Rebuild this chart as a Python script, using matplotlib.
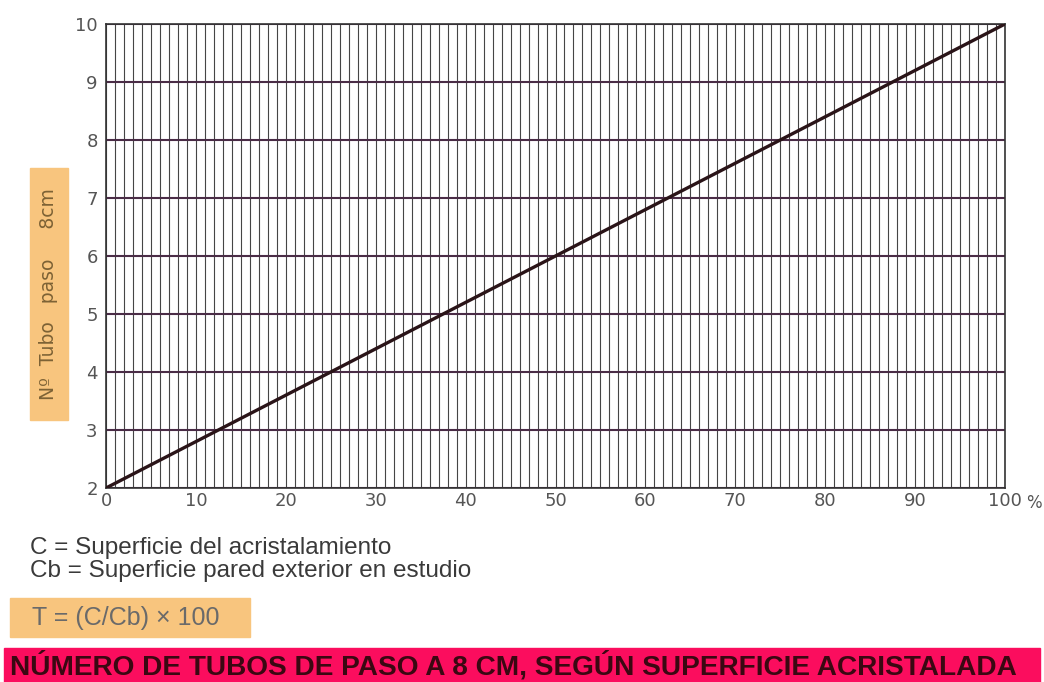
import matplotlib
matplotlib.use("Agg")
import matplotlib.pyplot as plt
from matplotlib.patches import Rectangle

# T = (C/Cb) x 100  vs  number of 8 cm pipes
porcentaje = [0, 12.5, 25, 37.5, 50, 62.5, 75, 87.5, 100]
n_tubos = [2, 3, 4, 5, 6, 7, 8, 9, 10]

x_ticks = [0, 10, 20, 30, 40, 50, 60, 70, 80, 90, 100]
y_ticks = [2, 3, 4, 5, 6, 7, 8, 9, 10]
x_fine = list(range(0, 101))

ylabel = "Nº  Tubo   paso     8cm"
leyenda = ["C = Superficie del acristalamiento",
           "Cb = Superficie pared exterior en estudio"]
formula = "T = (C/Cb) × 100"
titulo = "NÚMERO DE TUBOS DE PASO A 8 CM, SEGÚN SUPERFICIE ACRISTALADA"

W, H = 1044, 682
fig = plt.figure(figsize=(W / 100, H / 100), dpi=100)
fig.patch.set_facecolor("white")

ax = fig.add_axes([106 / W, 1 - 488 / H, 899 / W, 464 / H])
ax.set_xlim(0, 100)
ax.set_ylim(2, 10)

# fine 1 % vertical rulings
for xv in x_fine:
    ax.axvline(xv, color="#454545", lw=0.8, zorder=1)
# horizontal rulings at each pipe count
for yv in y_ticks:
    ax.axhline(yv, color="#4a2c46", lw=1.5, zorder=2)

ax.plot(porcentaje, n_tubos, color="#2a1418", lw=2.4, zorder=3,
        solid_capstyle="round")

for s in ax.spines.values():
    s.set_color("#333333")
    s.set_linewidth(1.2)

ax.set_xticks(x_ticks)
ax.set_yticks(y_ticks)
ax.tick_params(length=0, labelsize=13, labelcolor="#555555")
ax.tick_params(axis="x", pad=3)
ax.tick_params(axis="y", pad=6)
ax.annotate("%", xy=(100, 2), xytext=(15, -4), textcoords="offset points",
            ha="left", va="top", fontsize=12, color="#555555",
            annotation_clip=False)

# y-axis label in an orange box
fig.patches.append(Rectangle((30 / W, 1 - 420 / H), 38 / W, 252 / H,
                             transform=fig.transFigure, color="#f8c57e",
                             zorder=0))
fig.text(49 / W, 1 - 294 / H, ylabel, rotation=90, ha="center",
         va="center", fontsize=13.5, color="#7d6235")

# definitions
fig.text(30 / W, 1 - 548 / H, leyenda[0], ha="left", va="center",
         fontsize=17.5, color="#3a3a3a", family="Liberation Sans")
fig.text(30 / W, 1 - 571 / H, leyenda[1], ha="left", va="center",
         fontsize=17.5, color="#3a3a3a", family="Liberation Sans")

fig.patches.append(Rectangle((10 / W, 1 - 637 / H), 240 / W, 39 / H,
                             transform=fig.transFigure, color="#f8c57e",
                             zorder=0))
fig.text(32 / W, 1 - 618 / H, formula, ha="left", va="center",
         fontsize=18, color="#6a6a6a", family="Liberation Sans")

# title banner
fig.patches.append(Rectangle((4 / W, 0), 1036 / W, 34 / H,
                             transform=fig.transFigure, color="#fb0d5e",
                             zorder=0))
fig.text(10 / W, 16 / H, titulo, ha="left", va="center", fontsize=20.2,
         fontweight="bold", color="#3a0812", family="Liberation Sans")

fig.savefig("out.png", dpi=100, facecolor=fig.get_facecolor())
